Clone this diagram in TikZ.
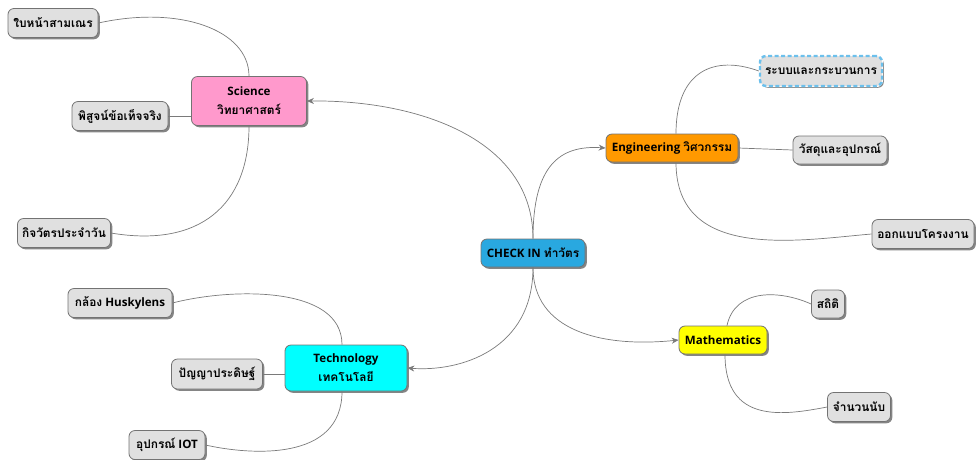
\documentclass[tikz,border=0pt]{standalone}
\usepackage{fontspec}
\setmainfont{Open Sans}
\newfontfamily\thaifont[Script=Thai]{Loma}
\usetikzlibrary{shadows,arrows.meta}
\definecolor{cblue}{HTML}{29A8E0}
\definecolor{cpink}{HTML}{FF99CC}
\definecolor{corange}{HTML}{FF9900}
\definecolor{cyellow}{HTML}{FFFF00}
\definecolor{ccyan}{HTML}{00FFFF}
\definecolor{csub}{HTML}{E0E0E0}
\definecolor{cline}{HTML}{7A7A7A}
\definecolor{cdash}{HTML}{6CC0EC}
\tikzset{
  box/.style={rounded corners=6pt, draw=black!55, line width=0.8pt, align=center,
    font=\fontsize{11.6}{19}\selectfont\bfseries, inner sep=2pt,
    drop shadow={shadow xshift=1.8pt, shadow yshift=-1.8pt, fill=black!60, opacity=0.8}},
  maintopic/.style={box},
  subtopic/.style={box, fill=csub},
  conn/.style={draw=cline, line width=0.7pt},
  arr/.style={conn, -{Stealth[length=7pt,width=6pt]}},
}
\newcommand\tht[1]{{\fontsize{11.9}{19}\selectfont\thaifont #1}}
\begin{document}
\begin{tikzpicture}[x=1pt,y=-1pt]
\useasboundingbox (0,0) rectangle (979,459);
% main
\node[maintopic, fill=cblue, minimum width=104pt, minimum height=28pt] (c) at (533,253) {CHECK IN \tht{ทำวัตร}};
\node[maintopic, fill=cpink, minimum width=115pt, minimum height=49pt] (sci) at (249,101) {Science\\\tht{วิทยาศาสตร์}};
\node[maintopic, fill=corange, minimum width=132pt, minimum height=28pt] (eng) at (672,148) {Engineering \tht{วิศวกรรม}};
\node[maintopic, fill=cyellow, minimum width=88pt, minimum height=28pt] (mat) at (723,340) {Mathematics};
\node[maintopic, fill=ccyan, minimum width=122pt, minimum height=46pt] (tec) at (346,368) {Technology\\\tht{เทคโนโลยี}};
% subtopics
\node[subtopic, minimum width=90pt, minimum height=29pt] (s1) at (53,23) {\tht{ใบหน้าสามเณร}};
\node[subtopic, minimum width=96pt, minimum height=29pt] (s2) at (120,116) {\tht{พิสูจน์ข้อเท็จจริง}};
\node[subtopic, minimum width=93pt, minimum height=29pt] (s3) at (64,233) {\tht{กิจวัตรประจำวัน}};
\node[subtopic, draw=cdash, dash pattern=on 4pt off 2.5pt, line width=2.4pt,
      preaction={draw=white, solid, line width=2.4pt},
      minimum width=122pt, minimum height=30pt] (e1) at (821,71) {\tht{ระบบและกระบวนการ}};
\node[subtopic, minimum width=94pt, minimum height=28pt] (e2) at (840,150) {\tht{วัสดุและอุปกรณ์}};
\node[subtopic, minimum width=102pt, minimum height=29pt] (e3) at (923,234) {\tht{ออกแบบโครงงาน}};
\node[subtopic, minimum width=33pt, minimum height=28pt] (m1) at (828,304) {\tht{สถิติ}};
\node[subtopic, minimum width=63pt, minimum height=29pt] (m2) at (859,407) {\tht{จำนวนนับ}};
\node[subtopic, minimum width=104pt, minimum height=29pt] (t1) at (120,303) {\tht{กล้อง} Huskylens};
\node[subtopic, minimum width=91pt, minimum height=30pt] (t2) at (217,374) {\tht{ปัญญาประดิษฐ์}};
\node[subtopic, minimum width=76pt, minimum height=29pt] (t3) at (167,445) {\tht{อุปกรณ์} IOT};
% center connectors
\draw[arr] (c.north) .. controls (533,140) and (420,100) .. (sci.east);
\draw[arr] (c.north) .. controls (533,165) and (560,145) .. (eng.west);
\draw[arr] (c.south) .. controls (533,350) and (460,372) .. (tec.east);
\draw[arr] (c.south) .. controls (533,330) and (600,348) .. (mat.west);
% science
\draw[conn] (sci.north) .. controls (249,30) and (180,5) .. (s1.east);
\draw[conn] (sci.west |- s2.east) -- (s2.east);
\draw[conn] (sci.south) .. controls (249,205) and (200,248) .. (s3.east);
% engineering
\draw[conn] ([xshift=4pt]eng.north) .. controls (676,70) and (715,55) .. (e1.west);
\draw[conn] (eng.east) -- (e2.west);
\draw[conn] ([xshift=4pt]eng.south) .. controls (676,262) and (800,240) .. (e3.west);
% math
\draw[conn] ([xshift=4pt]mat.north) .. controls (735,288) and (780,290) .. (m1.west);
\draw[conn] ([xshift=2pt]mat.south) .. controls (725,425) and (785,415) .. (m2.west);
% technology
\draw[conn] ([xshift=-4pt]tec.north) .. controls (342,285) and (230,288) .. (t1.east);
\draw[conn] (tec.west |- t2.east) -- (t2.east);
\draw[conn] ([xshift=-4pt]tec.south) .. controls (342,462) and (250,455) .. (t3.east);
\end{tikzpicture}
\end{document}
